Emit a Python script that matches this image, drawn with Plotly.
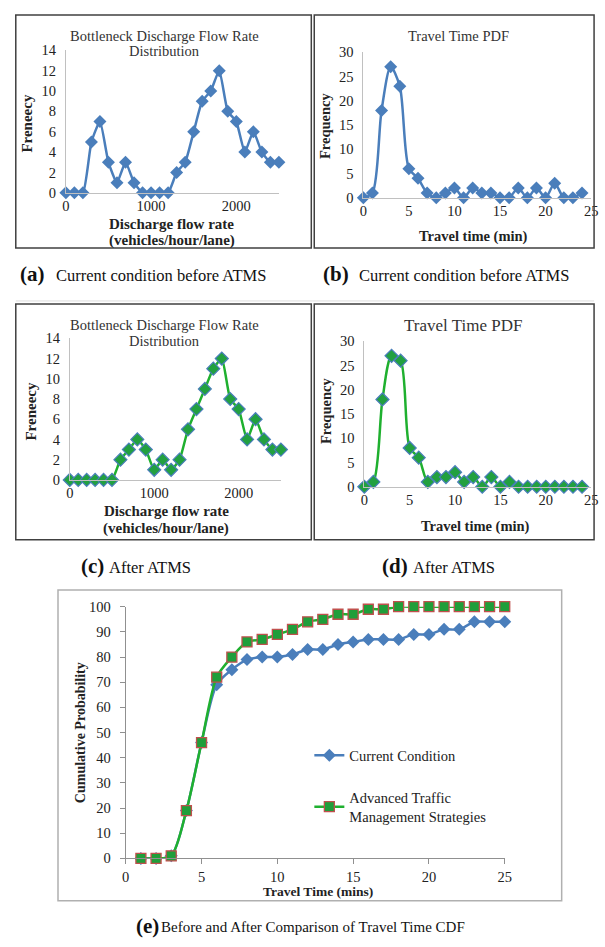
import plotly.graph_objects as go

W, H = 605, 947
def fx(p): return p / W
def fy(p): return 1 - p / H

FONT = "Liberation Serif"
BLUE = "#4a7ebb"
GREEN = "#1fb02f"

# ---------------- data ----------------
flow_x = [0, 100, 200, 300, 400, 500, 600, 700, 800, 900, 1000, 1100, 1200,
          1300, 1400, 1500, 1600, 1700, 1800, 1900, 2000, 2100, 2200, 2300, 2400, 2500]
flow_before = [0, 0, 0, 5, 7, 3, 1, 3, 1, 0, 0, 0, 0,
               2, 3, 6, 9, 10, 12, 8, 7, 4, 6, 4, 3, 3]
flow_after = [0, 0, 0, 0, 0, 0, 2, 3, 4, 3, 1, 2, 1,
              2, 5, 7, 9, 11, 12, 8, 7, 4, 6, 4, 3, 3]

tt_x = list(range(0, 25))
tt_before = [0, 1, 18, 27, 23, 6, 4, 1, 0, 1, 2, 0, 2, 1, 1, 0, 0, 2, 0, 2, 0, 3, 0, 0, 1]
tt_after = [0, 1, 18, 27, 26, 8, 6, 1, 2, 2, 3, 1, 2, 0, 2, 0, 1, 0, 0, 0, 0, 0, 0, 0, 0]

cdf_x = list(range(1, 26))
cdf_current = [0, 0, 1, 19, 46, 69, 75, 79, 80, 80, 81, 83, 83, 85, 86, 87, 87, 87,
               89, 89, 91, 91, 94, 94, 94]
cdf_atms = [0, 0, 1, 19, 46, 72, 80, 86, 87, 89, 91, 94, 95, 97, 97, 99, 99, 100,
            100, 100, 100, 100, 100, 100, 100]

fig = go.Figure()

# ---------------- traces ----------------
fig.add_trace(go.Scatter(x=flow_x, y=flow_before, xaxis="x", yaxis="y", mode="lines+markers",
                         line=dict(color=BLUE, width=2.5, shape="spline", smoothing=0.5),
                         marker=dict(symbol="diamond", size=10, color=BLUE),
                         showlegend=False, cliponaxis=False))
fig.add_trace(go.Scatter(x=tt_x, y=tt_before, xaxis="x2", yaxis="y2", mode="lines+markers",
                         line=dict(color=BLUE, width=2.5, shape="spline", smoothing=0.8),
                         marker=dict(symbol="diamond", size=10, color=BLUE),
                         showlegend=False, cliponaxis=False))
fig.add_trace(go.Scatter(x=flow_x, y=flow_after, xaxis="x3", yaxis="y3", mode="lines+markers",
                         line=dict(color=GREEN, width=2.5, shape="spline", smoothing=0.5),
                         marker=dict(symbol="diamond", size=10, color="#22a040",
                                     line=dict(color=BLUE, width=1.2)),
                         showlegend=False, cliponaxis=False))
fig.add_trace(go.Scatter(x=tt_x, y=tt_after, xaxis="x4", yaxis="y4", mode="lines+markers",
                         line=dict(color=GREEN, width=2.5, shape="spline", smoothing=0.8),
                         marker=dict(symbol="diamond", size=10, color="#22a040",
                                     line=dict(color=BLUE, width=1.2)),
                         showlegend=False, cliponaxis=False))
fig.add_trace(go.Scatter(x=cdf_x, y=cdf_current, xaxis="x5", yaxis="y5", mode="lines+markers",
                         name="Current Condition", legendgroup="g1",
                         line=dict(color=BLUE, width=2.5, shape="spline", smoothing=0.8),
                         marker=dict(symbol="diamond", size=10, color=BLUE),
                         cliponaxis=False))
fig.add_trace(go.Scatter(x=cdf_x, y=cdf_atms, xaxis="x5", yaxis="y5", mode="lines+markers",
                         name="Advanced Traffic<br>Management Strategies", legendgroup="g2",
                         line=dict(color=GREEN, width=2.5, shape="spline", smoothing=0.8),
                         marker=dict(symbol="square", size=10, color="#1f9e3a",
                                     line=dict(color="#c0504d", width=1.3)),
                         cliponaxis=False))

tickfont = dict(family=FONT, size=14.5, color="#222")

def xax(l, r, rng, dtick, anchor, ticks="", linecolor="#c0c0c0"):
    return dict(domain=[fx(l), fx(r)], range=rng, dtick=dtick, tick0=0, anchor=anchor,
                showline=True, linecolor=linecolor, linewidth=1, showgrid=False,
                zeroline=False, ticks=ticks, ticklen=5, tickcolor=linecolor,
                tickfont=tickfont, fixedrange=True)

def yax(t, b, rng, dtick, anchor, ticks="", linecolor="#c0c0c0"):
    return dict(domain=[fy(b), fy(t)], range=rng, dtick=dtick, tick0=0, anchor=anchor,
                showline=True, linecolor=linecolor, linewidth=1, showgrid=False,
                zeroline=False, ticks=ticks, ticklen=5, tickcolor=linecolor,
                tickfont=tickfont, ticklabelstandoff=6, fixedrange=True)

layout = dict(
    width=W, height=H, margin=dict(l=0, r=0, t=0, b=0),
    paper_bgcolor="white", plot_bgcolor="white",
    font=dict(family=FONT, size=14, color="#222"),
    xaxis=xax(63, 280, [0, 2500], 1000, "y"),
    yaxis=yax(43, 188, [0, 14], 2, "x"),
    xaxis2=xax(366, 598, [0, 25], 5, "y2"),
    yaxis2=yax(45, 193, [0, 30], 5, "x2"),
    xaxis3=xax(67, 282, [0, 2500], 1000, "y3"),
    yaxis3=yax(336, 480, [0, 14], 2, "x3"),
    xaxis4=xax(367, 598, [0, 25], 5, "y4"),
    yaxis4=yax(339, 487, [0, 30], 5, "x4"),
    xaxis5=xax(124, 510, [0, 25], 5, "y5", ticks="outside", linecolor="#909090"),
    yaxis5=yax(609, 865, [0, 100], 10, "x5", ticks="outside", linecolor="#909090"),
    legend=dict(x=fx(311), y=fy(744), xanchor="left", yanchor="top",
                bgcolor="rgba(0,0,0,0)", font=dict(family=FONT, size=14.5, color="#222"),
                traceorder="grouped", tracegroupgap=20, itemwidth=30),
)
fig.update_layout(**layout)

# ---------------- frames ----------------
shapes = []
for (l, t, r, b, c) in [(12, 7, 313, 244, "#404040"), (316, 7, 601, 244, "#404040"),
                        (12, 301, 313, 541, "#404040"), (316, 301, 601, 541, "#404040"),
                        (55, 592, 568, 908, "#b0b0b0")]:
    shapes.append(dict(type="rect", xref="paper", yref="paper",
                       x0=fx(l), x1=fx(r), y0=fy(b), y1=fy(t),
                       line=dict(color=c, width=1.5)))
shapes.append(dict(type="line", xref="paper", yref="paper", x0=fx(12), x1=fx(601),
                   y0=fy(298), y1=fy(298), line=dict(color="#dddddd", width=1)))
fig.update_layout(shapes=shapes)

# ---------------- annotations ----------------
ann = []
def text(x, y, s, size=12, bold=False, angle=0, xanchor="center", color="#222"):
    if bold:
        s = "<b>" + s + "</b>"
    ann.append(dict(x=fx(x), y=fy(y), xref="paper", yref="paper", text=s, showarrow=False,
                    xanchor=xanchor, yanchor="middle", textangle=angle,
                    font=dict(family=FONT, size=size, color=color)))

# panel a
text(163, 28, "Bottleneck Discharge Flow Rate", 14.5, color="#333")
text(163, 44, "Distribution", 14.5, color="#333")
text(23, 117, "Freneecy", 15, bold=True, angle=-90)
text(171, 220, "Discharge flow rate", 15, bold=True)
text(171, 237, "(vehicles/hour/lane)", 15, bold=True)
# panel b
text(463, 28, "Travel Time PDF", 14.5, color="#333")
text(327, 120, "Frequency", 14.5, bold=True, angle=-90)
text(478, 232, "Travel time (min)", 14.5, bold=True)
# panel c
text(163, 322, "Bottleneck Discharge Flow Rate", 14.5, color="#333")
text(163, 339, "Distribution", 14.5, color="#333")
text(28, 410, "Freneecy", 15, bold=True, angle=-90)
text(165, 512, "Discharge flow rate", 15, bold=True)
text(165, 529, "(vehicles/hour/lane)", 15, bold=True)
# panel d
text(468, 323, "Travel Time PDF", 17, color="#333")
text(328, 410, "Frequency", 14.5, bold=True, angle=-90)
text(480, 527, "Travel time (min)", 14.5, bold=True)
# panel e
text(78, 737, "Cumulative Probability", 14, bold=True, angle=-90)
text(320, 899, "Travel Time (mins)", 13.5, bold=True)

# captions
text(14, 271, "(a)", 21, bold=True, xanchor="left", color="#111")
text(51, 272, "Current condition before ATMS", 16.5, xanchor="left", color="#111")
text(323, 271, "(b)", 21, bold=True, xanchor="left", color="#111")
text(360, 272, "Current condition before ATMS", 16.5, xanchor="left", color="#111")
text(76, 568, "(c)", 21, bold=True, xanchor="left", color="#111")
text(105, 569, "After ATMS", 16.5, xanchor="left", color="#111")
text(383, 568, "(d)", 21, bold=True, xanchor="left", color="#111")
text(415, 569, "After ATMS", 16.5, xanchor="left", color="#111")
text(132, 934, "(e)", 21, bold=True, xanchor="left", color="#111")
text(158, 935, "Before and After Comparison of Travel Time CDF", 15, xanchor="left", color="#111")

fig.update_layout(annotations=ann)
fig.write_html("out.html")
